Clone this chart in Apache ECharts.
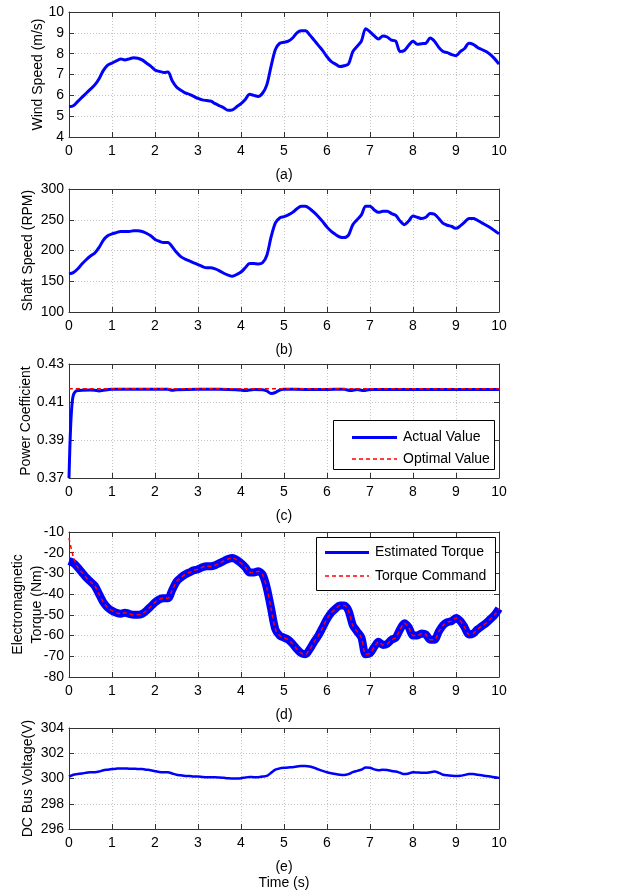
<!DOCTYPE html>
<html>
<head>
<meta charset="utf-8">
<title>Wind turbine simulation</title>
<script src="https://cdn.jsdelivr.net/npm/echarts@6/dist/echarts.min.js"></script>
<style>
  html, body {margin:0;padding:0;background:#fff;}
  #chart {width:618px;height:894px;}
</style>
</head>
<body>
<div id="chart"></div>
<script>
// sample times (s)
var time = [0,0.1,0.2,0.3,0.4,0.5,0.6,0.7,0.8,0.9,1,1.1,1.2,1.3,1.4,1.5,1.6,1.7,1.8,1.9,2,2.1,2.2,2.3,2.4,2.5,2.6,2.7,2.8,2.9,3,3.1,3.2,3.3,3.4,3.5,3.6,3.7,3.8,3.9,4,4.1,4.2,4.3,4.4,4.5,4.6,4.7,4.8,4.9,5,5.1,5.2,5.3,5.4,5.5,5.6,5.7,5.8,5.9,6,6.1,6.2,6.3,6.4,6.5,6.6,6.7,6.8,6.9,7,7.1,7.2,7.3,7.4,7.5,7.6,7.7,7.8,7.9,8,8.1,8.2,8.3,8.4,8.5,8.6,8.7,8.8,8.9,9,9.1,9.2,9.3,9.4,9.5,9.6,9.7,9.8,9.9,10];

// (a) wind speed, m/s
var windSpeed = [5.45,5.5,5.7,5.9,6.1,6.3,6.5,6.8,7.2,7.45,7.55,7.65,7.75,7.7,7.75,7.8,7.78,7.7,7.55,7.4,7.22,7.15,7.1,7.12,6.7,6.4,6.25,6.12,6.05,5.95,5.85,5.78,5.75,5.72,5.6,5.5,5.4,5.28,5.3,5.45,5.6,5.8,6.05,6.0,5.95,6.1,6.5,7.4,8.2,8.5,8.55,8.6,8.75,9.0,9.1,9.1,8.9,8.65,8.4,8.15,7.85,7.62,7.5,7.38,7.42,7.5,8.1,8.35,8.6,9.2,9.05,8.85,8.7,8.85,8.8,8.65,8.6,8.1,8.15,8.4,8.6,8.45,8.48,8.5,8.75,8.6,8.3,8.1,8.05,7.95,7.9,8.1,8.25,8.5,8.45,8.3,8.2,8.1,7.95,7.75,7.5];

// (b) shaft speed, RPM
var shaftSpeed = [162,164,170,178,185,191,196,205,217,224,227,229,231,231,231,232,232,231,228,224,218,215,213,213,206,197,190,186,183,180,177,174,172,172,170,167,163,160,158,161,165,172,179,179,178,180,192,222,245,253,255,258,262,268,272,272,268,262,255,247,238,231,226,222,221,225,242,250,258,272,272,266,262,264,264,260,257,248,242,248,256,254,252,254,260,259,252,244,241,239,236,240,246,252,252,249,245,241,237,232,227];

// (c) power coefficient
var cpTime = [0,0.02,0.04,0.06,0.08,0.1,0.13,0.16,0.2,0.3,0.5,0.6,0.7,0.8,0.9,1,1.5,2,2.3,2.4,2.5,3,3.5,3.9,4.1,4.3,4.5,4.6,4.7,4.8,4.9,5,5.5,6,6.4,6.55,6.7,6.85,7,7.5,8,8.5,9,9.5,10];
var cpActual = [0.370,0.386,0.398,0.406,0.411,0.4135,0.415,0.4157,0.416,0.4162,0.4163,0.4162,0.4158,0.4162,0.4165,0.4167,0.4167,0.4167,0.4167,0.4162,0.4165,0.4167,0.4167,0.4165,0.416,0.4166,0.4165,0.4158,0.4145,0.415,0.4163,0.4167,0.4166,0.4166,0.4167,0.416,0.4166,0.416,0.4166,0.4166,0.4166,0.4166,0.4166,0.4166,0.4166];
var cpOptTime = [0,10];
var cpOptimal = [0.417,0.417];

// (d) electromagnetic torque, Nm
var torqueEst = [-24,-25,-27,-29.5,-32,-34,-36,-40,-44,-46.5,-48,-49,-49.5,-49,-49.5,-50,-50,-49.5,-48,-46,-44,-42.5,-42,-42,-38,-34,-32,-30.5,-29.5,-28.5,-28,-27,-26.5,-26.5,-26,-25,-24,-23,-22.5,-23.5,-25,-27,-29.5,-29.5,-29,-30.5,-37,-47,-57,-60,-61,-62,-64,-66.5,-68.5,-69,-66.5,-63,-60,-56,-52,-49,-47,-45.5,-45.5,-48,-55,-58,-61,-69,-68.5,-65.5,-63,-64.5,-64,-62,-61,-57,-54,-56,-60,-60,-59,-59.5,-62,-62,-58,-55,-53.5,-53,-51.5,-53,-56,-59.5,-59,-57,-55.5,-54,-52,-50,-47];
var torqueCmd = [-13,-22,-27,-29.5,-32,-34,-36,-40,-44,-46.5,-48,-49,-49.5,-49,-49.5,-50,-50,-49.5,-48,-46,-44,-42.5,-42,-42,-38,-34,-32,-30.5,-29.5,-28.5,-28,-27,-26.5,-26.5,-26,-25,-24,-23,-22.5,-23.5,-25,-27,-29.5,-29.5,-29,-30.5,-37,-47,-57,-60,-61,-62,-64,-66.5,-68.5,-69,-66.5,-63,-60,-56,-52,-49,-47,-45.5,-45.5,-48,-55,-58,-61,-69,-68.5,-65.5,-63,-64.5,-64,-62,-61,-57,-54,-56,-60,-60,-59,-59.5,-62,-62,-58,-55,-53.5,-53,-51.5,-53,-56,-59.5,-59,-57,-55.5,-54,-52,-50,-47];

// (e) DC bus voltage, V
var busVoltage = [300.15,300.3,300.35,300.4,300.45,300.5,300.5,300.55,300.65,300.7,300.75,300.78,300.8,300.8,300.78,300.78,300.75,300.75,300.7,300.65,300.58,300.52,300.5,300.5,300.4,300.3,300.25,300.2,300.2,300.15,300.15,300.12,300.1,300.1,300.1,300.08,300.05,300.02,300.0,300.0,300.02,300.08,300.12,300.1,300.1,300.15,300.2,300.45,300.7,300.8,300.85,300.88,300.9,300.95,301.0,301.0,300.95,300.85,300.72,300.6,300.5,300.42,300.35,300.3,300.28,300.35,300.5,300.6,300.7,300.88,300.85,300.72,300.65,300.7,300.68,300.6,300.55,300.45,300.35,300.4,300.5,300.48,300.45,300.45,300.5,300.55,300.45,300.3,300.25,300.22,300.2,300.22,300.28,300.35,300.35,300.3,300.25,300.2,300.15,300.1,300.05];

var panelLabels = ['(a)', '(b)', '(c)', '(d)', '(e)'];

function pairs(xs, ys) {
	var out = [];
	for (var i = 0; i < xs.length; i++) out.push([xs[i], ys[i]]);
	return out;
}

var FONT = 'Liberation Sans, Arial, sans-serif';
var BLUE = '#0000ff', RED = '#ff0000';

// plot boxes (all share left/width)
var boxes = [
	{top: 12, height: 125, min: 4, max: 10, step: 1, name: 'Wind Speed (m/s)', gap: 21, dec: 0},
	{top: 189, height: 123, min: 100, max: 300, step: 50, name: 'Shaft Speed (RPM)', gap: 31, dec: 0},
	{top: 364, height: 114, min: 0.37, max: 0.43, step: 0.02, name: 'Power Coefficient', gap: 33, dec: 2},
	{top: 532, height: 145, min: -80, max: -10, step: 10, name: 'Electromagnetic\nTorque (Nm)', gap: 22, dec: 0},
	{top: 728, height: 101, min: 296, max: 304, step: 2, name: 'DC Bus Voltage(V)', gap: 31, dec: 0}
];

var grids = [], xAxes = [], yAxes = [], graphics = [];
boxes.forEach(function (b, i) {
	grids.push({left: 69, width: 430, top: b.top, height: b.height, containLabel: false});
	var lineCol = '#333';
	xAxes.push({
		type: 'value', gridIndex: i, min: 0, max: 10, interval: 1, position: 'bottom',
		axisLine: {show: true, onZero: false, lineStyle: {color: lineCol, width: 1}},
		axisTick: {show: true, inside: true, length: 5, lineStyle: {color: lineCol}},
		axisLabel: {color: '#000', fontFamily: FONT, fontSize: 14, margin: 7},
		splitLine: {show: true, lineStyle: {color: '#c4c4c4', type: [1, 2], width: 1}}
	});
	// top x axis, ticks only
	xAxes.push({
		type: 'value', gridIndex: i, min: 0, max: 10, interval: 1, position: 'top',
		axisLine: {show: true, onZero: false, lineStyle: {color: lineCol, width: 1}},
		axisTick: {show: true, inside: true, length: 5, lineStyle: {color: lineCol}},
		axisLabel: {show: false}, splitLine: {show: false}
	});
	yAxes.push({
		type: 'value', gridIndex: i, min: b.min, max: b.max, interval: b.step, position: 'left',
		name: b.name, nameLocation: 'middle', nameGap: b.gap, nameRotate: 90, nameMoveOverlap: false,
		nameTextStyle: {color: '#000', fontFamily: FONT, fontSize: 14, lineHeight: 19},
		axisLine: {show: true, onZero: false, lineStyle: {color: lineCol, width: 1}},
		axisTick: {show: true, inside: true, length: 5, lineStyle: {color: lineCol}},
		axisLabel: {color: '#000', fontFamily: FONT, fontSize: 14, margin: 5,
			formatter: (function (d) { return function (v) { return v.toFixed(d); }; })(b.dec)},
		splitLine: {show: true, lineStyle: {color: '#c4c4c4', type: [1, 2], width: 1}}
	});
	yAxes.push({
		type: 'value', gridIndex: i, min: b.min, max: b.max, interval: b.step, position: 'right',
		axisLine: {show: true, onZero: false, lineStyle: {color: lineCol, width: 1}},
		axisTick: {show: true, inside: true, length: 5, lineStyle: {color: lineCol}},
		axisLabel: {show: false}, splitLine: {show: false}
	});
	graphics.push({
		type: 'text', x: 284, y: b.top + b.height + 38,
		style: {text: panelLabels[i], font: '14px ' + FONT, fill: '#000', textAlign: 'center', textVerticalAlign: 'middle'}
	});
});
graphics.push({
	type: 'text', x: 284, y: 883,
	style: {text: 'Time (s)', font: '14px ' + FONT, fill: '#000', textAlign: 'center', textVerticalAlign: 'middle'}
});

// legend boxes drawn as graphics (matlab style: line sample + label)
function legendBox(x, y, w, h, lineX, lineW, rows) {
	var children = [{
		type: 'rect', z: 100, shape: {x: x, y: y, width: w, height: h},
		style: {fill: '#fff', stroke: '#000', lineWidth: 1}
	}];
	rows.forEach(function (r) {
		children.push({
			type: 'line', z: 101, shape: {x1: lineX, y1: r.y, x2: lineX + lineW, y2: r.y},
			style: {stroke: r.color, lineWidth: r.width, lineDash: r.dash ? r.dash : 'solid'}
		});
		children.push({
			type: 'text', z: 101, x: lineX + lineW + 6, y: r.y,
			style: {text: r.text, font: '14px ' + FONT, fill: '#000', textVerticalAlign: 'middle'}
		});
	});
	return {type: 'group', children: children};
}
graphics.push(legendBox(333.5, 420.5, 161, 49, 352, 45, [
	{y: 437.5, text: 'Actual Value', color: BLUE, width: 3},
	{y: 459, text: 'Optimal Value', color: RED, width: 1.5, dash: [4, 3]}
]));
graphics.push(legendBox(316.5, 537.5, 179, 53, 325, 44, [
	{y: 552.5, text: 'Estimated Torque', color: BLUE, width: 3},
	{y: 576, text: 'Torque Command', color: RED, width: 1.5, dash: [4, 3]}
]));

function line(name, idx, data, color, width, dashed, z) {
	return {
		name: name, type: 'line', xAxisIndex: idx * 2, yAxisIndex: idx * 2,
		data: data, showSymbol: false, symbol: 'none', smooth: 0.3, animation: false, z: z || 2,
		lineStyle: {color: color, width: width, type: dashed ? [4, 3] : 'solid'},
		itemStyle: {color: color}
	};
}

var series = [
	line('Wind Speed', 0, pairs(time, windSpeed), BLUE, 3),
	line('Shaft Speed', 1, pairs(time, shaftSpeed), BLUE, 3),
	line('Actual Value', 2, pairs(cpTime, cpActual), BLUE, 3),
	line('Optimal Value', 2, pairs(cpOptTime, cpOptimal), RED, 1.5, true, 3),
	line('Estimated Torque', 3, pairs(time, torqueEst), BLUE, 8),
	line('Torque Command', 3, pairs(time, torqueCmd), RED, 1.5, true, 3),
	line('DC Bus Voltage', 4, pairs(time, busVoltage), BLUE, 2.5)
];

var chart = echarts.init(document.getElementById('chart'));
chart.setOption({
	backgroundColor: '#fff',
	animation: false,
	grid: grids,
	xAxis: xAxes,
	yAxis: yAxes,
	series: series,
	graphic: graphics
});
</script>
</body>
</html>
